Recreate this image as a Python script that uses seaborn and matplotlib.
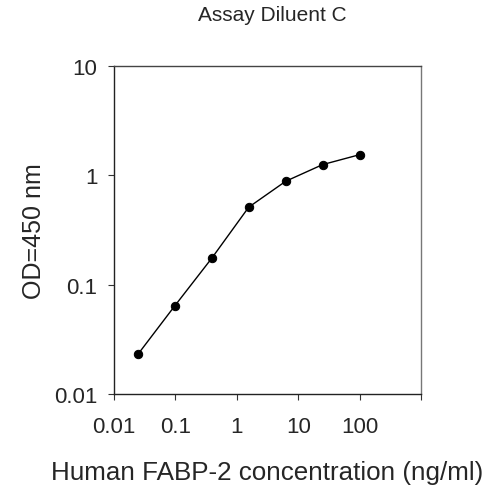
import numpy as np
import pandas as pd
import seaborn as sns
import matplotlib
matplotlib.use("Agg")
import matplotlib.pyplot as plt

# standard curve, fourfold dilutions
conc = [0.0244, 0.0977, 0.39, 1.5625, 6.25, 25, 100]
od = [0.023, 0.064, 0.174, 0.51, 0.88, 1.25, 1.54]
xticks = [0.01, 0.1, 1, 10, 100, 1000]
xtick_labels = ["0.01", "0.1", "1", "10", "100", ""]
yticks = [0.01, 0.1, 1, 10]
ytick_labels = ["0.01", "0.1", "1", "10"]

sns.set_style("white")
plt.rcParams['font.family'] = ['Liberation Sans', 'DejaVu Sans']

df = pd.DataFrame({"conc": conc, "od": od})

fig = plt.figure(figsize=(5, 5.02), dpi=100)
ax = fig.add_axes([0.228, 0.213, 0.614, 0.654])
sns.lineplot(data=df, x="conc", y="od", ax=ax, color="black", linewidth=1,
             marker="o", markersize=6, markeredgecolor="black")
ax.set_xscale("log")
ax.set_yscale("log")
ax.set_xlim(0.01, 1000)
ax.set_ylim(0.01, 10)
ax.set_xticks(xticks)
ax.set_xticklabels(xtick_labels)
ax.set_yticks(yticks)
ax.set_yticklabels(ytick_labels)
ax.minorticks_off()
ax.tick_params(axis="both", direction="out", length=4, width=0.8, color="#333333",
               labelsize=16, bottom=True, left=True)
ax.tick_params(axis="x", pad=12)
ax.tick_params(axis="y", pad=8)
for side in ["left", "bottom", "top", "right"]:
    ax.spines[side].set_visible(True)
    ax.spines[side].set_linewidth(1)
ax.spines["left"].set_color("#222222")
ax.spines["bottom"].set_color("#222222")
ax.spines["top"].set_color("#444444")
ax.spines["right"].set_color("#777777")

ax.set_xlabel("Human FABP-2 concentration (ng/ml)", fontsize=18.7, labelpad=16)
ax.set_ylabel("OD=450 nm", fontsize=18, labelpad=6)
fig.text(0.545, 0.97, "Assay Diluent C", ha="center", va="center", fontsize=15)

fig.savefig("out.png", dpi=100)
